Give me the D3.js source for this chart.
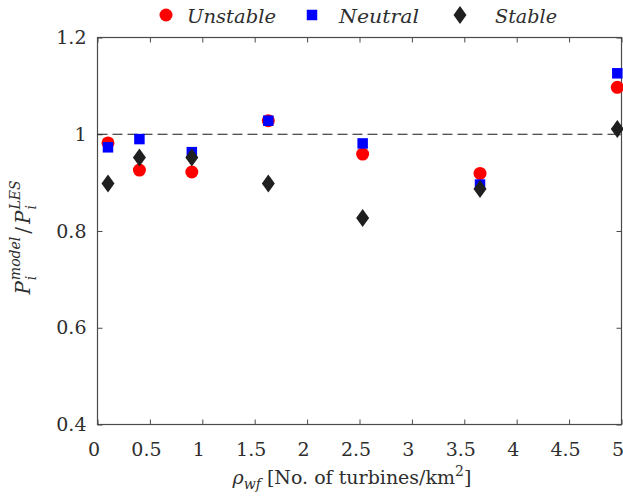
<!DOCTYPE html>
<html>
<head>
<meta charset="utf-8">
<script src="https://cdn.jsdelivr.net/npm/d3@7"></script>
<style>
  html, body { margin: 0; padding: 0; background: #fff; }
  svg { display: block; }
</style>
</head>
<body>
<svg id="chart" width="623" height="500"></svg>
<script>
// Wind-farm density (turbines per km^2) for each case
const density = [0.1, 0.4, 0.9, 1.63, 2.53, 3.65, 4.96];

// Power ratio P_model / P_LES for each stability regime
const unstable = [0.982, 0.926, 0.922, 1.028, 0.959, 0.919, 1.097];
const neutral  = [0.973, 0.990, 0.963, 1.028, 0.981, 0.896, 1.126];
const stable   = [0.898, 0.952, 0.952, 0.898, 0.827, 0.887, 1.011];

const xTicks = [0, 0.5, 1, 1.5, 2, 2.5, 3, 3.5, 4, 4.5, 5];
const xTickLabels = ["0", "0.5", "1", "1.5", "2", "2.5", "3", "3.5", "4", "4.5", "5"];
const yTicks = [0.4, 0.6, 0.8, 1, 1.2];
const yTickLabels = ["0.4", "0.6", "0.8", "1", "1.2"];

const seriesNames = ["Unstable", "Neutral", "Stable"];
const refLine = 1;

const serif = "'DejaVu Serif', 'Liberation Serif', serif";

const svg = d3.select("#chart").attr("font-family", serif);
const plotLeft = 97.5, plotRight = 621.5, plotTop = 37.5, plotBottom = 424.5;

const x = d3.scaleLinear().domain([0, 5]).range([plotLeft, plotRight]);
const y = d3.scaleLinear().domain([0.4, 1.2]).range([plotBottom, plotTop]);

const axisColor = "#4a4a4a";
const textColor = "#2e2e2e";
const fontSize = 19;

// Axes with inward ticks on all four sides
function styleAxis(g) {
  g.attr("font-family", serif);
  g.select(".domain").remove();
  g.selectAll(".tick line").attr("stroke", axisColor).attr("stroke-width", 1);
}

svg.append("g")
  .attr("transform", `translate(0,${plotBottom})`)
  .call(d3.axisBottom(x).tickValues(xTicks).tickSize(-5).tickPadding(18)
    .tickFormat((d, i) => xTickLabels[i]))
  .call(styleAxis)
  .call(g => g.selectAll(".tick text")
    .attr("font-size", fontSize).attr("dx", -4).attr("fill", textColor));

svg.append("g")
  .attr("transform", `translate(0,${plotTop})`)
  .call(d3.axisTop(x).tickValues(xTicks).tickSize(-5).tickFormat(""))
  .call(styleAxis);

svg.append("g")
  .attr("transform", `translate(${plotLeft},0)`)
  .call(d3.axisLeft(y).tickValues(yTicks).tickSize(-5).tickPadding(11)
    .tickFormat((d, i) => yTickLabels[i]))
  .call(styleAxis)
  .call(g => g.selectAll(".tick text")
    .attr("font-size", fontSize).attr("fill", textColor));

svg.append("g")
  .attr("transform", `translate(${plotRight},0)`)
  .call(d3.axisRight(y).tickValues(yTicks).tickSize(-5).tickFormat(""))
  .call(styleAxis);

// Plot frame
svg.append("rect")
  .attr("x", plotLeft).attr("y", plotTop)
  .attr("width", plotRight - plotLeft).attr("height", plotBottom - plotTop)
  .attr("fill", "none").attr("stroke", axisColor).attr("stroke-width", 1.2);

// Reference line at ratio = 1
svg.append("line")
  .attr("x1", x(0)).attr("x2", x(5))
  .attr("y1", y(refLine)).attr("y2", y(refLine))
  .attr("stroke", "#1a1a1a").attr("stroke-width", 1.2)
  .attr("stroke-dasharray", "10,5");

// Marker shapes
const circleSym = d3.symbol().type(d3.symbolCircle).size(Math.PI * 6.5 * 6.5);
const squareSym = d3.symbol().type(d3.symbolSquare).size(10.5 * 10.5);
function diamondPath(w, h) {
  return `M0,${-h / 2}L${w / 2},0L0,${h / 2}L${-w / 2},0Z`;
}

const pts = svg.append("g");

pts.selectAll("path.unstable").data(density.map((d, i) => [d, unstable[i]]))
  .join("path").attr("class", "unstable")
  .attr("transform", d => `translate(${x(d[0])},${y(d[1])})`)
  .attr("d", circleSym()).attr("fill", "#ff0000");

pts.selectAll("path.neutral").data(density.map((d, i) => [d, neutral[i]]))
  .join("path").attr("class", "neutral")
  .attr("transform", d => `translate(${x(d[0])},${y(d[1])})`)
  .attr("d", squareSym()).attr("fill", "#0000ff");

pts.selectAll("path.stable").data(density.map((d, i) => [d, stable[i]]))
  .join("path").attr("class", "stable")
  .attr("transform", d => `translate(${x(d[0])},${y(d[1])})`)
  .attr("d", diamondPath(13, 18)).attr("fill", "#1f1f1f");

// Legend across the top
const legend = svg.append("g");
const legendItems = [
  { name: seriesNames[0], mx: 166, tx: 187, tw: 89, draw: g => g.append("path").attr("d", circleSym()).attr("fill", "#ff0000") },
  { name: seriesNames[1], mx: 312, tx: 339, tw: 80, draw: g => g.append("path").attr("d", squareSym()).attr("fill", "#0000ff") },
  { name: seriesNames[2], mx: 460, tx: 495, tw: 62, draw: g => g.append("path").attr("d", diamondPath(13, 18)).attr("fill", "#1f1f1f") }
];
legendItems.forEach(it => {
  const g = legend.append("g").attr("transform", `translate(${it.mx},15)`);
  it.draw(g);
  legend.append("text")
    .attr("x", it.tx).attr("y", 23)
    .attr("font-size", fontSize).attr("font-style", "italic")
    .attr("fill", textColor)
    .attr("textLength", it.tw).attr("lengthAdjust", "spacingAndGlyphs")
    .text(it.name);
});

// X axis title
const xt = svg.append("text")
  .attr("x", 352).attr("y", 484)
  .attr("text-anchor", "middle")
  .attr("fill", textColor)
  .attr("font-size", fontSize);
xt.append("tspan").attr("font-style", "italic").text("ρ");
xt.append("tspan").attr("font-style", "italic").attr("font-size", 14).attr("dy", 5).text("wf");
xt.append("tspan").attr("dy", -5).text(" [No. of turbines/km");
xt.append("tspan").attr("font-size", 14).attr("dy", -8).text("2");
xt.append("tspan").attr("dy", 8).text("]");

// Y axis title: P_i^model / P_i^LES, rotated
const yt = svg.append("g").attr("transform", "translate(30,236) rotate(-90)");
const parts = yt.append("g");
let cx = 0;
function piece(txt, size, italic, dy) {
  const t = parts.append("text")
    .attr("x", cx).attr("y", dy)
    .attr("font-size", size)
    .attr("fill", textColor)
    .attr("font-style", italic ? "italic" : "normal")
    .text(txt);
  return t.node().getComputedTextLength();
}
function scripted(base, sup) {
  cx += piece(base, fontSize + 1, true, 0) + 1;
  const ws = piece(sup, 14, true, -10);
  const wi = piece("i", 14, true, 6);
  cx += Math.max(ws, wi) + 3;
}
scripted("P", "model");
cx += piece("/", fontSize + 1, false, 0) + 3;
scripted("P", "LES");
parts.attr("transform", `translate(${-cx / 2},0)`);
</script>
</body>
</html>
